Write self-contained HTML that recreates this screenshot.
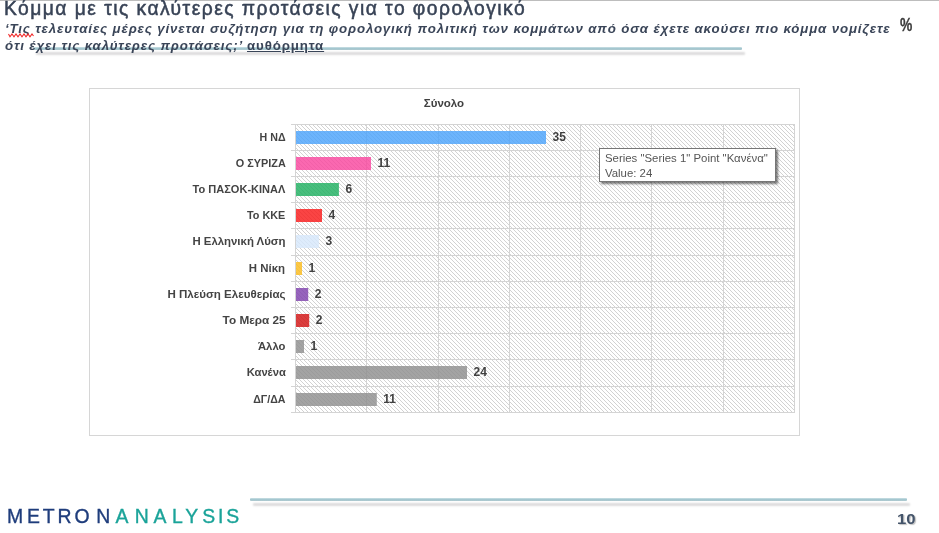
<!DOCTYPE html>
<html lang="el"><head><meta charset="utf-8"><title>Κόμμα με τις καλύτερες προτάσεις για το φορολογικό</title>
<style>
html,body{margin:0;padding:0;background:#fff;}
body{width:939px;height:533px;position:relative;overflow:hidden;font-family:"Liberation Sans",sans-serif;}
.abs{position:absolute;white-space:nowrap;}
#topline{left:0;top:0;width:939px;height:1px;background:#bdbdbd;}
#title{left:4px;top:-3px;font-size:19.3px;line-height:24px;color:#384356;letter-spacing:1.45px;-webkit-text-stroke:0.5px #384356;}
.sub{left:5px;font-size:13.3px;line-height:17px;font-weight:bold;font-style:italic;color:#3a4558;letter-spacing:0.85px;}
#sub1{top:20px;}
#sub2{top:37px;}
#sub2 u{font-style:normal;}
#pct{left:900px;top:14.2px;font-size:19.2px;font-weight:bold;color:#3c3c3c;-webkit-text-stroke:.35px #3c3c3c;line-height:22px;transform:scaleX(.72);transform-origin:0 0;}
.rule{height:3px;background:linear-gradient(#cfe2e6,#a3c7d0 45%,#afc9cf);border-radius:1px;}
#rule1{left:33px;top:47px;width:709px;box-shadow:3px 5px 2px rgba(100,95,100,.22);}
#rule2{left:250px;top:498px;width:657px;box-shadow:3px 5px 2px rgba(100,95,100,.22);}
#chart{left:89px;top:88px;width:709px;height:346px;border:1px solid #d6d6d6;background:#fff;}
#ctitle{left:394px;width:100px;text-align:center;top:96px;font-size:11.5px;line-height:14px;font-weight:bold;color:#404040;}
.lab{right:653.5px;font-size:11.7px;line-height:14px;font-weight:bold;color:#444;text-align:right;transform:scaleX(.95);transform-origin:100% 50%;}
.val{font-size:12px;line-height:14px;font-weight:bold;color:#404040;}
#tip{left:599px;top:148px;width:175px;height:32px;border:1px solid #767676;background:#fff;box-shadow:2px 2px 2px rgba(0,0,0,.5);font-size:11.4px;line-height:15px;color:#555;}
#tip div{position:absolute;left:5px;white-space:nowrap;}
#pg{left:897px;top:509.5px;font-size:14.4px;transform:scaleX(1.16);transform-origin:0 0;line-height:18px;font-weight:bold;color:#44546a;text-shadow:1px 1px 1px rgba(0,0,0,.25);}
</style></head><body>
<div class="abs" id="topline"></div>
<div class="abs rule" id="rule1"></div>
<div class="abs" id="title">Κόμμα με τις καλύτερες προτάσεις για το φορολογικό</div>
<div class="abs sub" id="sub1">‘Τις τελευταίες μέρες γίνεται συζήτηση για τη φορολογική πολιτική των κομμάτων από όσα έχετε ακούσει πιο κόμμα νομίζετε</div>
<div class="abs sub" id="sub2">ότι έχει τις καλύτερες προτάσεις;’ <u>αυθόρμητα</u></div>
<div class="abs" id="pct">%</div>
<svg class="abs" style="left:8px;top:33px" width="28" height="5" viewBox="0 0 28 5"><path d="M0.5,1 L2,3.8 L4,1 L6,3.8 L8,1 L10,3.8 L12,1 L14,3.8 L16,1 L18,3.8 L20,1 L22,3.8 L24,1 L25.5,3" fill="none" stroke="#f02828" stroke-width="1.05"/></svg>
<div class="abs" id="chart"></div>
<div class="abs" id="ctitle">Σύνολο</div>

<svg class="abs" style="left:0;top:0" width="939" height="533" viewBox="0 0 939 533" shape-rendering="crispEdges">
<defs><pattern id="h" width="4" height="4" patternUnits="userSpaceOnUse"><path d="M0,0h1v1h-1z M1,1h1v1h-1z M2,2h1v1h-1z M3,3h1v1h-1z" fill="#d2d2d2"/></pattern></defs>
<rect x="295" y="124" width="500" height="289" fill="url(#h)"/>
<path d="M295.5,124 V413 M366.5,124 V413 M438.5,124 V413 M509.5,124 V413 M580.5,124 V413 M651.5,124 V413 M723.5,124 V413 M794.5,124 V413 M291,124.5 H795 M291,150.5 H795 M291,176.5 H795 M291,202.5 H795 M291,228.5 H795 M291,255.5 H795 M291,281.5 H795 M291,307.5 H795 M291,333.5 H795 M291,359.5 H795 M291,386.5 H795 M291,412.5 H795" stroke="#d4d4d4" stroke-width="1" fill="none"/>
<rect x="296" y="131" width="250.0" height="13" fill="#4ca4fb" fill-opacity="0.82" shape-rendering="auto"/>
<rect x="296" y="157" width="75.0" height="13" fill="#f9479f" fill-opacity="0.82" shape-rendering="auto"/>
<rect x="296" y="183" width="42.9" height="13" fill="#20b060" fill-opacity="0.82" shape-rendering="auto"/>
<rect x="296" y="209" width="26.0" height="13" fill="#f91b1b" fill-opacity="0.82" shape-rendering="auto"/>
<rect x="296" y="235" width="22.9" height="13" fill="#d7e8fb" fill-opacity="0.82" shape-rendering="auto"/>
<rect x="296" y="262" width="6.0" height="13" fill="#fbbc1d" fill-opacity="0.82" shape-rendering="auto"/>
<rect x="296" y="288" width="12.2" height="13" fill="#7f42ad" fill-opacity="0.82" shape-rendering="auto"/>
<rect x="296" y="314" width="13.2" height="13" fill="#d21414" fill-opacity="0.82" shape-rendering="auto"/>
<rect x="296" y="340" width="8.0" height="13" fill="#8f8f8f" fill-opacity="0.82" shape-rendering="auto"/>
<rect x="296" y="366" width="171.0" height="13" fill="#8f8f8f" fill-opacity="0.82" shape-rendering="auto"/>
<rect x="296" y="393" width="80.8" height="13" fill="#8f8f8f" fill-opacity="0.82" shape-rendering="auto"/>
</svg>
<div class="abs lab" style="top:129.6px;transform:scaleX(0.911)">Η ΝΔ</div>
<div class="abs val" style="left:552.5px;top:130px">35</div>
<div class="abs lab" style="top:155.6px;transform:scaleX(0.93)">Ο ΣΥΡΙΖΑ</div>
<div class="abs val" style="left:377.5px;top:156px">11</div>
<div class="abs lab" style="top:181.6px;transform:scaleX(0.943)">Το ΠΑΣΟΚ-ΚΙΝΑΛ</div>
<div class="abs val" style="left:345.4px;top:182px">6</div>
<div class="abs lab" style="top:207.6px;transform:scaleX(0.926)">Το ΚΚΕ</div>
<div class="abs val" style="left:328.5px;top:208px">4</div>
<div class="abs lab" style="top:233.6px;transform:scaleX(0.975)">Η Ελληνική Λύση</div>
<div class="abs val" style="left:325.4px;top:234px">3</div>
<div class="abs lab" style="top:260.6px;transform:scaleX(0.977)">Η Νίκη</div>
<div class="abs val" style="left:308.5px;top:261px">1</div>
<div class="abs lab" style="top:286.6px;transform:scaleX(0.988)">Η Πλεύση Ελευθερίας</div>
<div class="abs val" style="left:314.7px;top:287px">2</div>
<div class="abs lab" style="top:312.6px;transform:scaleX(1.006)">Το Μερα 25</div>
<div class="abs val" style="left:315.7px;top:313px">2</div>
<div class="abs lab" style="top:338.6px;transform:scaleX(0.967)">Άλλο</div>
<div class="abs val" style="left:310.5px;top:339px">1</div>
<div class="abs lab" style="top:364.6px;transform:scaleX(0.96)">Κανένα</div>
<div class="abs val" style="left:473.5px;top:365px">24</div>
<div class="abs lab" style="top:391.6px;transform:scaleX(0.909)">ΔΓ/ΔΑ</div>
<div class="abs val" style="left:383.3px;top:392px">11</div>
<div class="abs" id="tip"><div style="top:2px">Series "Series 1" Point "Κανένα"</div><div style="top:17px">Value: 24</div></div>
<div class="abs rule" id="rule2"></div>
<svg class="abs" id="logo" style="left:0;top:500px" width="250" height="33" viewBox="0 500 250 33"><text y="523.2" text-anchor="middle" font-family="Liberation Sans, sans-serif" font-size="19.4" fill="#1f3d7c" stroke="#1f3d7c" stroke-width="0.35"><tspan x="15 33.5 48.6 64.4 82 103.2">METRON</tspan><tspan fill="#1aa399" stroke="#1aa399" x="121.9 141.65 159.9 177.35 191.6 208.65 220.7 232.7">ANALYSIS</tspan></text></svg>
<div class="abs" id="pg">10</div>
</body></html>
